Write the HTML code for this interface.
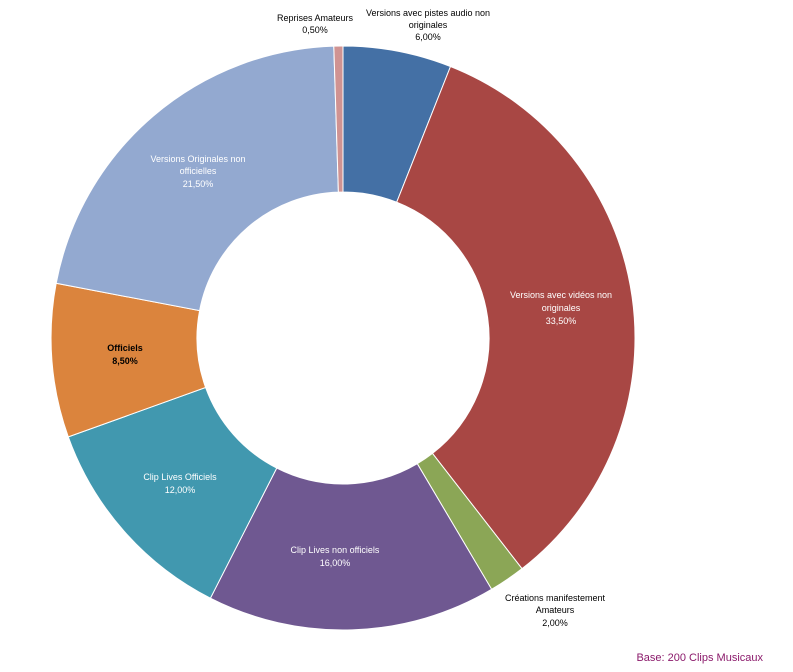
<!DOCTYPE html>
<html><head><meta charset="utf-8"><style>
body{margin:0;background:#fff;}
svg text{font-family:"Liberation Sans",sans-serif;font-size:9px;}
</style></head><body>
<svg width="793" height="667" viewBox="0 0 793 667" xmlns="http://www.w3.org/2000/svg">
<g stroke="#fff" stroke-width="1">
<path d="M343,46 A292,292 0 0 1 450.5,66.5 L396.7,202.2 A146,146 0 0 0 343,192 Z" fill="#4470A5"/>
<path d="M450.5,66.5 A292,292 0 0 1 522,568.7 L432.5,453.4 A146,146 0 0 0 396.7,202.2 Z" fill="#A84744"/>
<path d="M522,568.7 A292,292 0 0 1 491.6,589.3 L417.3,463.7 A146,146 0 0 0 432.5,453.4 Z" fill="#8BA656"/>
<path d="M491.6,589.3 A292,292 0 0 1 210.4,598.2 L276.7,468.1 A146,146 0 0 0 417.3,463.7 Z" fill="#6F5891"/>
<path d="M210.4,598.2 A292,292 0 0 1 68.3,436.9 L205.6,387.5 A146,146 0 0 0 276.7,468.1 Z" fill="#4198AF"/>
<path d="M68.3,436.9 A292,292 0 0 1 56.2,283.3 L199.6,310.6 A146,146 0 0 0 205.6,387.5 Z" fill="#DB843D"/>
<path d="M56.2,283.3 A292,292 0 0 1 333.8,46.1 L338.4,192.1 A146,146 0 0 0 199.6,310.6 Z" fill="#93A9D0"/>
<path d="M333.8,46.1 A292,292 0 0 1 343,46 L343,192 A146,146 0 0 0 338.4,192.1 Z" fill="#D09392"/>
</g>
<g text-anchor="middle">
<text x="315" y="21" fill="#000">Reprises Amateurs</text>
<text x="315" y="33" fill="#000">0,50%</text>
<text x="428" y="16" fill="#000">Versions avec pistes audio non</text>
<text x="428" y="28" fill="#000">originales</text>
<text x="428" y="40" fill="#000">6,00%</text>
<text x="561" y="298" fill="#fff">Versions avec vidéos non</text>
<text x="561" y="311" fill="#fff">originales</text>
<text x="561" y="324" fill="#fff">33,50%</text>
<text x="555" y="601" fill="#000">Créations manifestement</text>
<text x="555" y="613" fill="#000">Amateurs</text>
<text x="555" y="626" fill="#000">2,00%</text>
<text x="335" y="553" fill="#fff">Clip Lives non officiels</text>
<text x="335" y="566" fill="#fff">16,00%</text>
<text x="180" y="480" fill="#fff">Clip Lives Officiels</text>
<text x="180" y="493" fill="#fff">12,00%</text>
<text x="125" y="351" fill="#000" font-weight="bold">Officiels</text>
<text x="125" y="364" fill="#000" font-weight="bold">8,50%</text>
<text x="198" y="162" fill="#fff">Versions Originales non</text>
<text x="198" y="174" fill="#fff">officielles</text>
<text x="198" y="187" fill="#fff">21,50%</text>
</g>
<text x="763" y="661" text-anchor="end" fill="#8B1A6B" style="font-size:11px">Base: 200 Clips Musicaux</text>
</svg>
</body></html>
